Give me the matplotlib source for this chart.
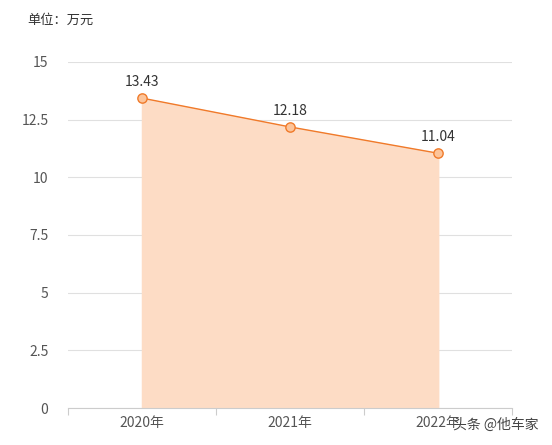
import matplotlib.pyplot as plt

plt.rcParams['font.family'] = ['Noto Sans CJK SC', 'DejaVu Sans']

years = ['2020年', '2021年', '2022年']
prices = [13.43, 12.18, 11.04]
y_ticks = [0, 2.5, 5, 7.5, 10, 12.5, 15]
y_labels = ['0', '2.5', '5', '7.5', '10', '12.5', '15']

fig = plt.figure(figsize=(5.52, 4.45), dpi=100)
ax = fig.add_axes([0.123, 0.083, 0.805, 0.778])
ax.set_axisbelow(True)

x = list(range(len(years)))
ax.fill_between(x, prices, 0, color='#FDDCC5', zorder=1)
ax.plot(x, prices, color='#F07A2A', lw=1, zorder=2)
ax.scatter(x, prices, s=45, facecolor='#FCC49A', edgecolor='#F07A2A', lw=1, zorder=3)
for xi, v in zip(x, prices):
    ax.text(xi, v + 0.4, f'{v:.2f}', ha='center', va='bottom', fontsize=10, color='#333333')

ax.set_xlim(-0.5, 2.5)
ax.set_ylim(0, 15)
ax.set_yticks(y_ticks)
ax.set_yticklabels(y_labels)
ax.set_xticks([-0.5, 0.5, 1.5, 2.5])
ax.set_xticklabels([])
ax.set_xticks(x, minor=True)
ax.set_xticklabels(years, minor=True)
ax.tick_params(axis='x', which='major', length=5, color='#cccccc')
ax.tick_params(axis='x', which='minor', length=0, pad=6, labelsize=10, labelcolor='#555555')
ax.tick_params(axis='y', length=0, pad=14, labelsize=10, labelcolor='#555555')
ax.grid(axis='y', color='#e0e0e0', lw=0.8)
for s in ['top', 'right', 'left']:
    ax.spines[s].set_visible(False)
ax.spines['bottom'].set_color('#cccccc')

fig.text(0.049, 0.955, '单位：万元', fontsize=9.5, color='#333333', va='center')
fig.text(0.82, 0.045, '头条 @他车家', fontsize=10, color='#444444', va='center')

fig.savefig('out.png')
